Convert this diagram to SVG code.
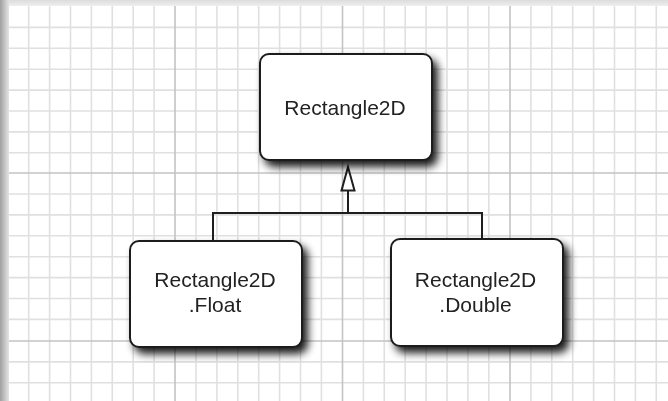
<svg xmlns="http://www.w3.org/2000/svg" width="668" height="401" viewBox="0 0 668 401">
<defs>
<style>
.minor{stroke:#e0e0e0;stroke-width:1.6;fill:none}
.major{stroke:#c4c4c4;stroke-width:1.6;fill:none}
.box{fill:#fff;stroke:#1e1e1e;stroke-width:2}
.lbl{font-family:"Liberation Sans",Arial,sans-serif;font-size:21px;fill:#222;text-anchor:middle}
.conn{stroke:#1e1e1e;stroke-width:2;fill:none}
</style>
<linearGradient id="gl" x1="0" y1="0" x2="1" y2="0">
<stop offset="0" stop-color="#a0a0a0"/>
<stop offset="1" stop-color="#e4e4e4"/>
</linearGradient>
<linearGradient id="gt" x1="0" y1="0" x2="0" y2="1">
<stop offset="0" stop-color="#dcdcdc"/>
<stop offset="1" stop-color="#efefef"/>
</linearGradient>
<filter id="sh" x="-20%" y="-20%" width="150%" height="150%">
<feGaussianBlur in="SourceAlpha" stdDeviation="4"/>
<feOffset dx="5" dy="6" result="b"/>
<feComponentTransfer><feFuncA type="linear" slope="0.9"/></feComponentTransfer>
<feMerge><feMergeNode/><feMergeNode in="SourceGraphic"/></feMerge>
</filter>
</defs>
<rect width="668" height="401" fill="#fff"/>
<g id="grid">
<path class="minor" d="M28.7 6V401M49.6 6V401M70.5 6V401M91.4 6V401M112.3 6V401M133.2 6V401M154.1 6V401M196 6V401M216.9 6V401M237.8 6V401M258.7 6V401M279.6 6V401M300.5 6V401M321.4 6V401M363.4 6V401M384.3 6V401M405.2 6V401M426.1 6V401M447 6V401M467.9 6V401M488.8 6V401M530.9 6V401M551.8 6V401M572.7 6V401M593.6 6V401M614.5 6V401M635.4 6V401M656.3 6V401"/>
<path class="minor" d="M9 27.4H668M9 48.3H668M9 69.2H668M9 90.1H668M9 111H668M9 131.9H668M9 152.8H668M9 194H668M9 214.9H668M9 235.8H668M9 256.7H668M9 277.6H668M9 298.5H668M9 319.4H668M9 361.9H668M9 382.8H668"/>
<path class="major" d="M175 6V401M342.5 6V401M510 6V401M9 173H668M9 341H668"/>
<rect x="0" y="0" width="668" height="6" fill="url(#gt)"/>
<rect x="0" y="0" width="9" height="401" fill="url(#gl)"/>
</g>
<g id="connectors">
<path class="conn" d="M213 240V213H482V240"/>
<path class="conn" d="M348 213V190"/>
<path class="conn" d="M348 167L354.5 190.5H341.5Z" fill="#fff"/>
</g>
<g id="node-rectangle2d" filter="url(#sh)">
<rect class="box" x="260" y="54" width="172" height="106" rx="9"/>
<text class="lbl" x="345" y="115">Rectangle2D</text>
</g>
<g id="node-float" filter="url(#sh)">
<rect class="box" x="130" y="241" width="172" height="106" rx="9"/>
<text class="lbl" x="215" y="287">Rectangle2D</text>
<text class="lbl" x="215" y="311.5">.Float</text>
</g>
<g id="node-double" filter="url(#sh)">
<rect class="box" x="391" y="239" width="172" height="107" rx="9"/>
<text class="lbl" x="475.5" y="287">Rectangle2D</text>
<text class="lbl" x="475.5" y="311.5">.Double</text>
</g>
</svg>
